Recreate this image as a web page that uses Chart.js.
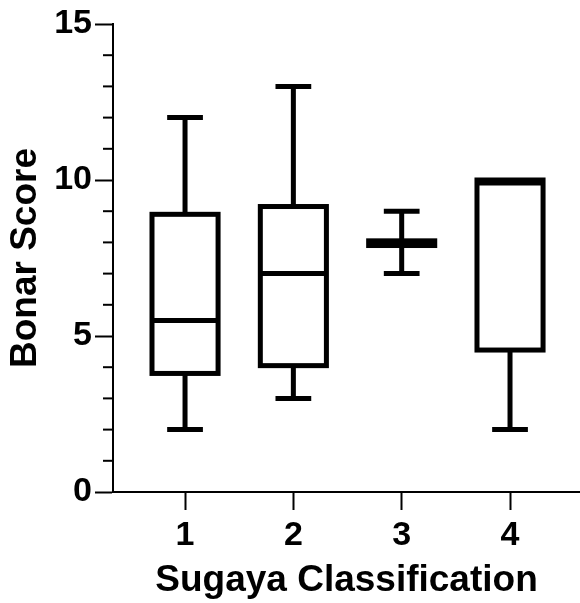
<!DOCTYPE html>
<html>
<head>
<meta charset="utf-8">
<script src="https://cdn.jsdelivr.net/npm/chart.js@4"></script>
<style>
    html, body { margin: 0; padding: 0; background: #fff; }
    #wrap { width: 580px; height: 603px; }
</style>
</head>
<body>
<div id="wrap"><canvas id="grafico"></canvas></div>
<script>
// dados (Bonar score por classificação de Sugaya)
const categorias = ['1', '2', '3', '4'];
const posicoes = [1, 2, 3, 4];
const minimos = [2, 3, 7, 2];
const quartil1 = [3.8, 4.05, 7.9, 4.55];
const medianas = [5.5, 7, 8, 9.9];
const quartil3 = [8.9, 9.15, 8.05, 10];
const maximos = [12, 13, 9, 10];
const ticksY = [0, 5, 10, 15];
const ticksMenoresY = [1, 2, 3, 4, 6, 7, 8, 9, 11, 12, 13, 14];

const fonte = "'Liberation Sans', Arial, sans-serif";
const larguraCaixa = 0.61;
const larguraHaste = 0.33;

const boxplot = {
    id: 'boxplot',
    afterDatasetsDraw(chart) {
        const { ctx, chartArea } = chart;
        const x = chart.scales.x;
        const y = chart.scales.y;
        ctx.save();
        ctx.strokeStyle = '#000';
        ctx.lineCap = 'butt';
        ctx.lineJoin = 'miter';

        // ticks menores do eixo y
        ctx.lineWidth = 2;
        ticksMenoresY.forEach(v => {
            const py = y.getPixelForValue(v);
            ctx.beginPath();
            ctx.moveTo(chartArea.left - 10, py);
            ctx.lineTo(chartArea.left, py);
            ctx.stroke();
        });

        ctx.lineWidth = 5;
        posicoes.forEach((p, i) => {
            const cx = x.getPixelForValue(p);
            const meiaCaixa = x.getPixelForValue(p + larguraCaixa / 2) - cx;
            const meiaHaste = x.getPixelForValue(p + larguraHaste / 2) - cx;
            const yMin = y.getPixelForValue(minimos[i]);
            const yQ1 = y.getPixelForValue(quartil1[i]);
            const yMed = y.getPixelForValue(medianas[i]);
            const yQ3 = y.getPixelForValue(quartil3[i]);
            const yMax = y.getPixelForValue(maximos[i]);

            // bigodes
            ctx.beginPath();
            ctx.moveTo(cx, yMin);
            ctx.lineTo(cx, yQ1);
            ctx.moveTo(cx, yQ3);
            ctx.lineTo(cx, yMax);
            ctx.moveTo(cx - meiaHaste, yMin);
            ctx.lineTo(cx + meiaHaste, yMin);
            if (maximos[i] > quartil3[i]) {
                ctx.moveTo(cx - meiaHaste, yMax);
                ctx.lineTo(cx + meiaHaste, yMax);
            }
            ctx.stroke();

            // caixa
            ctx.fillStyle = '#fff';
            ctx.fillRect(cx - meiaCaixa, yQ3, meiaCaixa * 2, yQ1 - yQ3);
            ctx.strokeRect(cx - meiaCaixa, yQ3, meiaCaixa * 2, yQ1 - yQ3);

            // mediana
            ctx.beginPath();
            ctx.moveTo(cx - meiaCaixa, yMed);
            ctx.lineTo(cx + meiaCaixa, yMed);
            ctx.stroke();
        });
        ctx.restore();
    }
};

const ctx = document.getElementById('grafico').getContext('2d');
const grafico = new Chart(ctx, {
    type: 'scatter',
    data: {
        datasets: [{
            label: 'Mediana',
            data: posicoes.map((p, i) => ({ x: p, y: medianas[i] })),
            pointRadius: 0,
            pointHoverRadius: 0
        }]
    },
    options: {
        responsive: true,
        maintainAspectRatio: false,
        animation: false,
        layout: { padding: { left: 0, top: 24, right: 0, bottom: 0 } },
        plugins: {
            legend: { display: false },
            tooltip: { enabled: false }
        },
        scales: {
            x: {
                type: 'linear',
                min: 0.335,
                max: 4.646,
                afterBuildTicks: s => { s.ticks = posicoes.map(v => ({ value: v })); },
                afterFit: s => { s.height = 111; },
                border: { color: '#000', width: 2 },
                grid: { drawOnChartArea: false, tickLength: 18, tickWidth: 2, tickColor: '#000' },
                ticks: {
                    color: '#000',
                    padding: 5,
                    font: { family: fonte, size: 34, weight: 'bold' },
                    callback: v => categorias[posicoes.indexOf(v)]
                },
                title: {
                    display: true,
                    text: 'Sugaya Classification',
                    color: '#000',
                    padding: { top: 4, bottom: 0 },
                    font: { family: fonte, size: 37, weight: 'bold' }
                }
            },
            y: {
                min: 0,
                max: 15,
                afterBuildTicks: s => { s.ticks = ticksY.map(v => ({ value: v })); },
                afterFit: s => { s.width = 113; },
                border: { color: '#000', width: 2 },
                grid: { drawOnChartArea: false, tickLength: 18, tickWidth: 2, tickColor: '#000' },
                ticks: {
                    color: '#000',
                    padding: 3,
                    font: { family: fonte, size: 34, weight: 'bold' }
                },
                title: {
                    display: true,
                    text: 'Bonar Score',
                    color: '#000',
                    padding: { top: 4, bottom: 4 },
                    font: { family: fonte, size: 37, weight: 'bold' }
                }
            }
        }
    },
    plugins: [boxplot]
});
</script>
</body>
</html>
